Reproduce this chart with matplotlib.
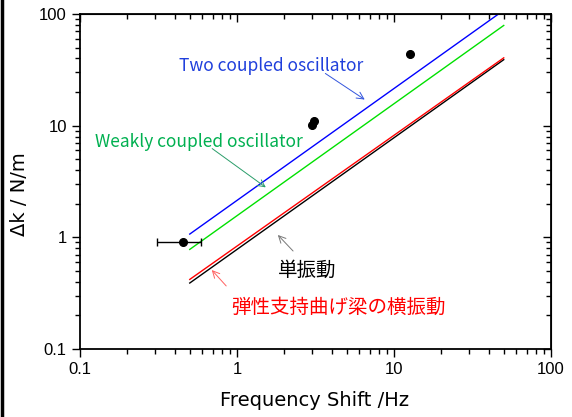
import matplotlib
matplotlib.use('Agg')
import matplotlib.pyplot as plt
from matplotlib.lines import Line2D
from matplotlib.ticker import LogLocator, NullFormatter

plt.rcParams['font.family'] = ['Liberation Sans', 'DejaVu Sans']
JP = ['Noto Sans CJK JP', 'DejaVu Sans']

# measured points
meas_f = [0.45, 2.99, 3.11, 12.6]
meas_k = [0.90, 10.1, 11.1, 43.6]
meas_ferr_lo = [0.14, 0, 0, 0]
meas_ferr_hi = [0.14, 0, 0, 0]

# model lines (Δk proportional to frequency shift)
line_f = [0.5, 50]
two_coupled = [1.07, 108]
weak_coupled = [0.78, 79]
beam_lateral = [0.42, 40.5]
simple_osc = [0.39, 39]

# annotation text / arrow positions (data coords)
ann_labels = ['Two coupled oscillator', 'Weakly coupled oscillator', '単振動', '弾性支持曲げ梁の横振動']
ann_text_xy = [(1.65, 34.2), (0.573, 7.14), (2.81, 0.51), (4.40, 0.238)]
ann_tail_xy = [(3.53, 30.3), (0.672, 6.45), (2.34, 0.724), (0.877, 0.352)]
ann_head_xy = [(6.73, 16.6), (1.576, 2.71), (1.77, 1.095), (0.672, 0.532)]
ann_text_col = ['#1f3fdc', '#00b050', 'black', '#ff0000']
ann_arrow_col = ['#3355dd', '#2a9d6a', '#777777', '#ff6060']
ann_size = [12.5, 12.5, 14, 14]

fig = plt.figure(figsize=(5.72, 4.17), dpi=100)
ax = fig.add_axes([0.1399, 0.163, 0.8234, 0.8034])

ax.plot(line_f, simple_osc, color='black', lw=1.0)
ax.plot(line_f, beam_lateral, color='#ff0000', lw=1.0)
ax.plot(line_f, weak_coupled, color='#00e000', lw=1.0)
ax.plot(line_f, two_coupled, color='#0000ff', lw=1.0)

ax.errorbar(meas_f, meas_k, xerr=[meas_ferr_lo, meas_ferr_hi], fmt='o', color='black',
            ms=5.5, elinewidth=1.0, capsize=3, capthick=1.0)

for lab, txy, tail, head, tc, acol, fs in zip(ann_labels, ann_text_xy, ann_tail_xy, ann_head_xy,
                                               ann_text_col, ann_arrow_col, ann_size):
    ax.text(txy[0], txy[1], lab, color=tc, fontsize=fs, family=JP, ha='center', va='center')
    ax.annotate('', xy=head, xytext=tail,
                arrowprops=dict(arrowstyle='->,head_length=0.5,head_width=0.25', color=acol, lw=0.7))

ax.set_xscale('log')
ax.set_yscale('log')
ax.set_xlim(0.1, 100)
ax.set_ylim(0.1, 100)
ax.set_xticks([0.1, 1, 10, 100])
ax.set_xticklabels(['0.1', '1', '10', '100'])
ax.set_yticks([0.1, 1, 10, 100])
ax.set_yticklabels(['0.1', '1', '10', '100'])
ax.xaxis.set_minor_locator(LogLocator(base=10, subs=range(2, 10)))
ax.yaxis.set_minor_locator(LogLocator(base=10, subs=range(2, 10)))
ax.xaxis.set_minor_formatter(NullFormatter())
ax.yaxis.set_minor_formatter(NullFormatter())

for s in ax.spines.values():
    s.set_linewidth(1.3)
ax.tick_params(which='both', labelsize=12, width=1.0)
ax.tick_params(which='major', length=6)
ax.tick_params(which='minor', length=3.5)
ax.tick_params(which='both', axis='both', direction='out', top=False, right=False)

# mirrored ticks pointing inward on top and right
ax2x = ax.secondary_xaxis('top')
ax2x.tick_params(which='both', direction='in', labeltop=False, width=1.0)
ax2x.tick_params(which='major', length=6)
ax2x.tick_params(which='minor', length=3.5)
ax2x.xaxis.set_minor_locator(LogLocator(base=10, subs=range(2, 10)))
ax2x.xaxis.set_minor_formatter(NullFormatter())
ax2x.set_xticks([0.1, 1, 10, 100])
ax2x.set_xticklabels([])
ax2y = ax.secondary_yaxis('right')
ax2y.tick_params(which='both', direction='in', labelright=False, width=1.0)
ax2y.tick_params(which='major', length=6)
ax2y.tick_params(which='minor', length=3.5)
ax2y.yaxis.set_minor_locator(LogLocator(base=10, subs=range(2, 10)))
ax2y.yaxis.set_minor_formatter(NullFormatter())
ax2y.set_yticks([0.1, 1, 10, 100])
ax2y.set_yticklabels([])

ax.set_xlabel('Frequency Shift /Hz', fontsize=14, family='DejaVu Sans')
ax.set_ylabel('Δk / N/m', fontsize=14, family='DejaVu Sans')
ax.xaxis.set_label_coords(0.499, -0.125)
ax.yaxis.set_label_coords(-0.108, 0.463)

fig.add_artist(Line2D([0.003, 0.003], [0, 1], color='black', lw=2.5, transform=fig.transFigure))

fig.savefig('out.png', dpi=100)
